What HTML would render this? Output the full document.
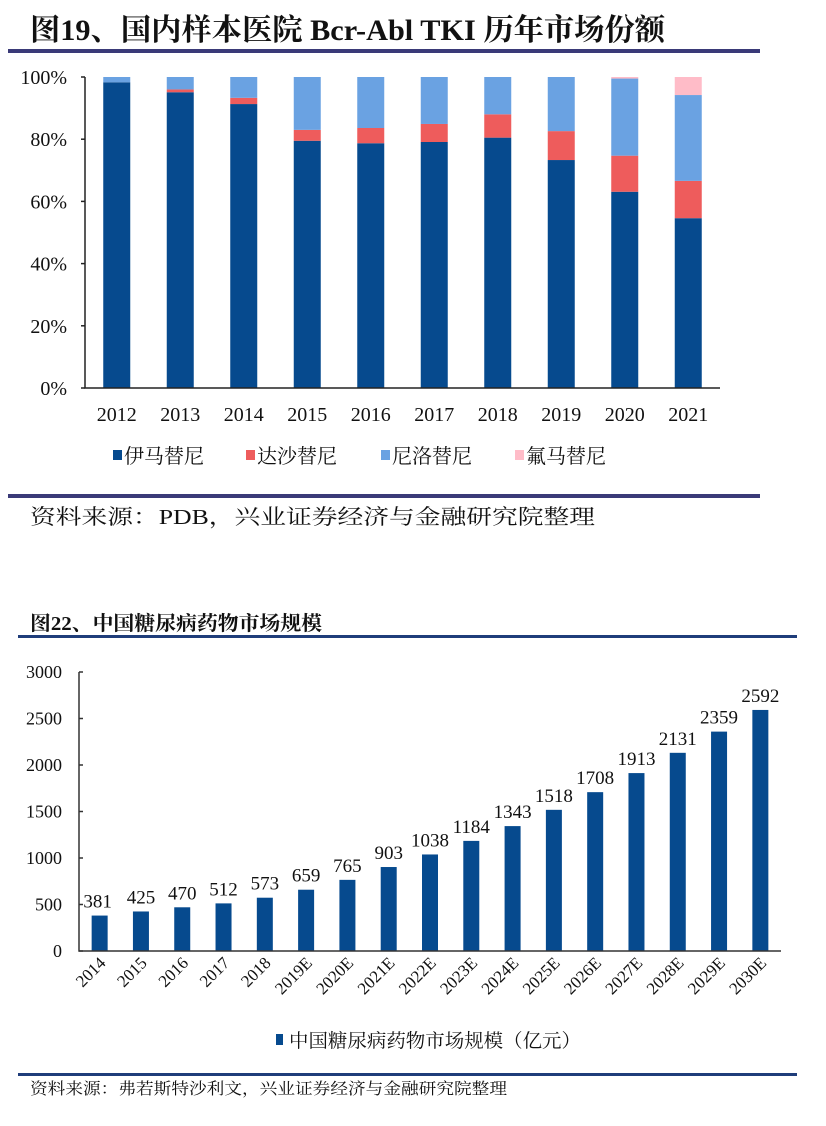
<!DOCTYPE html>
<html><head><meta charset="utf-8">
<style>
html,body{margin:0;padding:0;background:#fff;width:826px;height:1126px;overflow:hidden}
svg{display:block}
text{font-family:"Liberation Serif","Noto Serif CJK SC","Noto Sans CJK SC",serif;fill:#111}
</style></head>
<body>
<svg id="root" width="826" height="1126">
  <text x="30" y="40" font-size="30" font-weight="bold" textLength="635" lengthAdjust="spacingAndGlyphs">图19、国内样本医院 Bcr-Abl TKI 历年市场份额</text>
  <rect x="8" y="49" width="752" height="4" fill="#3a3a78"/>
  <g id="c1"></g>
  <g>
    <rect x="113" y="450" width="9" height="10" fill="#064a8e"/>
    <text x="124" y="463" font-size="20">伊马替尼</text>
    <rect x="246" y="450" width="9" height="10" fill="#ee5c5c"/>
    <text x="257" y="463" font-size="20">达沙替尼</text>
    <rect x="381" y="450" width="9" height="10" fill="#6aa2e2"/>
    <text x="392" y="463" font-size="20">尼洛替尼</text>
    <rect x="515" y="450" width="9" height="10" fill="#ffbcc8"/>
    <text x="526" y="463" font-size="20">氟马替尼</text>
  </g>
  <rect x="8" y="494" width="752" height="4" fill="#3a3a78"/>
  <text x="30" y="524" font-size="21" textLength="565" lengthAdjust="spacingAndGlyphs">资料来源：PDB，兴业证券经济与金融研究院整理</text>

  <text x="30" y="630" font-size="20" font-weight="bold" textLength="292" lengthAdjust="spacingAndGlyphs">图22、中国糖尿病药物市场规模</text>
  <rect x="18" y="635" width="779" height="3" fill="#1f3d7a"/>
  <g id="c2"></g>
  <rect x="276" y="1034" width="7" height="11" fill="#064a8e"/>
  <text x="289" y="1047" font-size="19" textLength="292" lengthAdjust="spacingAndGlyphs">中国糖尿病药物市场规模（亿元）</text>
  <rect x="18" y="1073" width="779" height="3" fill="#1f3d7a"/>
  <text x="30" y="1094" font-size="16" textLength="477" lengthAdjust="spacingAndGlyphs">资料来源：弗若斯特沙利文，兴业证券经济与金融研究院整理</text>
</svg>
<script>
const years1 = ["2012","2013","2014","2015","2016","2017","2018","2019","2020","2021"];
const imatinib = [98.3,95.1,91.3,79.5,78.7,79.1,80.5,73.3,63.1,54.6];
const dasatinib = [0,0.9,2.0,3.5,4.9,5.8,7.5,9.3,11.6,12.0];
const nilotinib = [1.7,4.0,6.7,17.0,16.4,15.1,12.0,17.4,24.8,27.6];
const flumatinib = [0,0,0,0,0,0,0,0,0.5,5.8];
const yTicks1 = [0,20,40,60,80,100];

const years2 = ["2014","2015","2016","2017","2018","2019E","2020E","2021E","2022E","2023E","2024E","2025E","2026E","2027E","2028E","2029E","2030E"];
const market = [381,425,470,512,573,659,765,903,1038,1184,1343,1518,1708,1913,2131,2359,2592];
const yTicks2 = [0,500,1000,1500,2000,2500,3000];

const NS="http://www.w3.org/2000/svg";
function mk(parent,tag,attrs){const e=document.createElementNS(NS,tag);for(const k in attrs)e.setAttribute(k,attrs[k]);parent.appendChild(e);return e;}

// Chart 1
(function(){
  const g=document.getElementById('c1');
  const x0=85,x1=720,y0=388,y1=77;
  const band=(x1-x0)/years1.length, bw=27;
  const ys=v=>y0-(v/100)*(y0-y1);
  const series=[[imatinib,"#064a8e","imatinib"],[dasatinib,"#ee5c5c","dasatinib"],[nilotinib,"#6aa2e2","nilotinib"],[flumatinib,"#ffbcc8","flumatinib"]];
  years1.forEach((yr,i)=>{
    let acc=0; const cx=x0+band*(i+0.5);
    series.forEach(([arr,col,nm])=>{
      const v=arr[i]; if(v<=0) return;
      const r=mk(g,'rect',{x:cx-bw/2,y:ys(acc+v),width:bw,height:ys(acc)-ys(acc+v),fill:col});
      
      
      acc+=v;
    });
    const t=mk(g,'text',{x:cx,y:421,'font-size':20,'text-anchor':'middle'});
    t.textContent=yr;
    
    
  });
  const ax=mk(g,'path',{d:`M${x0},${y1}V${y0}H${x1}`,stroke:'#222','stroke-width':1.5,fill:'none'});
  
  
  yTicks1.forEach(v=>{
    const tk=mk(g,'line',{x1:x0-4,x2:x0,y1:ys(v),y2:ys(v),stroke:'#222','stroke-width':1.5});
    
    
    const t=mk(g,'text',{x:x0-18,y:ys(v)+7,'font-size':20,'text-anchor':'end'});
    t.textContent=v+'%';
    
    
  });
})();

// Chart 2
(function(){
  const g=document.getElementById('c2');
  const x0=79,x1=781,y0=951,y1=672;
  const band=(x1-x0)/years2.length, bw=16;
  const ys=v=>y0-(v/3000)*(y0-y1);
  years2.forEach((yr,i)=>{
    const cx=x0+band*(i+0.5), v=market[i];
    const r=mk(g,'rect',{x:cx-bw/2,y:ys(v),width:bw,height:y0-ys(v),fill:'#064a8e'});
    
    
    const l=mk(g,'text',{x:cx+(i===0?-2:0),y:ys(v)-8,'font-size':19,'text-anchor':'middle'});
    l.textContent=v;
    
    
    const t=mk(g,'text',{x:cx+7,y:964,'font-size':17,'text-anchor':'end',transform:`rotate(-45 ${cx+7} 964)`});
    t.textContent=yr;
    
    
  });
  const ax=mk(g,'path',{d:`M${x0},${y1}V${y0}H${x1}`,stroke:'#333','stroke-width':1.5,fill:'none'});
  
  
  yTicks2.forEach(v=>{
    const tk=mk(g,'line',{x1:x0,x2:x0+4,y1:ys(v),y2:ys(v),stroke:'#333','stroke-width':1.5});
    
    
    const t=mk(g,'text',{x:x0-17,y:ys(v)+6,'font-size':18,'text-anchor':'end'});
    t.textContent=v;
    
    
  });
})();
</script>
</body></html>
